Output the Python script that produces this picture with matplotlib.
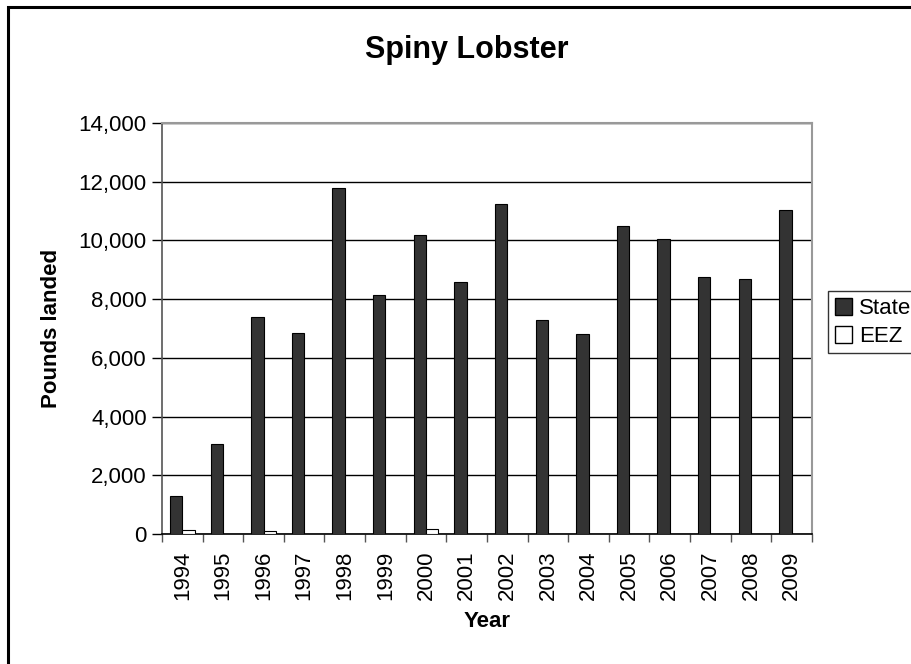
import numpy as np
import matplotlib
matplotlib.use("Agg")
import matplotlib.pyplot as plt
from matplotlib.patches import Rectangle, Patch

plt.rcParams['font.family'] = ['Liberation Sans', 'DejaVu Sans']

years = ['1994', '1995', '1996', '1997', '1998', '1999', '2000', '2001',
         '2002', '2003', '2004', '2005', '2006', '2007', '2008', '2009']
state = [1300, 3050, 7400, 6850, 11800, 8150, 10200, 8600,
         11250, 7300, 6800, 10500, 10050, 8750, 8700, 11050]
eez = [120, 0, 110, 0, 0, 0, 160, 0, 0, 0, 0, 0, 0, 0, 0, 0]
yticks = [0, 2000, 4000, 6000, 8000, 10000, 12000, 14000]

fig = plt.figure(figsize=(9.12, 6.64), dpi=100)
ax = fig.add_axes([162 / 912, 1 - 534 / 664, 650 / 912, 411 / 664])

x = np.arange(len(years))
w = 0.305
ax.bar(x - w / 2, state, width=w, color='#333333', edgecolor='black', linewidth=0.8, zorder=3)
eez_vals = np.array(eez)
mask = eez_vals > 0
ax.bar(x[mask] + w / 2, eez_vals[mask], width=w, color='white', edgecolor='black', linewidth=0.8, zorder=3)

ax.set_xlim(-0.5, len(years) - 0.5)
ax.set_ylim(0, 14000)
ax.set_yticks(yticks)
ax.set_yticklabels([f'{v:,}' for v in yticks], fontsize=16)
ax.yaxis.grid(True, color='black', linewidth=1.0, zorder=0)

# year labels centred on bars, tick marks between categories
ax.set_xticks(x)
ax.set_xticklabels(years, rotation=90, fontsize=16)
ax.tick_params(axis='x', which='major', length=0, pad=12)
ax.set_xticks(np.arange(len(years) + 1) - 0.5, minor=True)
ax.tick_params(axis='x', which='minor', length=6, width=1, color='#555555', direction='out')
ax.tick_params(axis='y', length=7, width=1, color='black', direction='out', pad=4)

for side in ['top', 'right']:
    ax.spines[side].set_color('#999999')
    ax.spines[side].set_linewidth(1.5)
ax.spines['left'].set_color('#555555')
ax.spines['left'].set_linewidth(1.2)
ax.spines['bottom'].set_color('black')
ax.spines['bottom'].set_linewidth(1.2)

ax.set_ylabel('Pounds landed', fontsize=16, fontweight='bold', labelpad=12)
ax.set_xlabel('Year', fontsize=16, fontweight='bold', labelpad=8)
fig.text(467 / 912, 1 - 50 / 664, 'Spiny Lobster', fontsize=22, fontweight='bold',
         ha='center', va='center')

handles = [Patch(facecolor='#333333', edgecolor='black', label='State'),
           Patch(facecolor='white', edgecolor='black', label='EEZ')]
leg = fig.legend(handles=handles, loc='upper left', bbox_to_anchor=(828 / 912, 1 - 291 / 664),
                 fontsize=16, frameon=True, fancybox=False, handlelength=0.8, handleheight=0.8,
                 handletextpad=0.3, borderpad=0.3, labelspacing=0.3, borderaxespad=0)
leg.get_frame().set_edgecolor('black')
leg.get_frame().set_linewidth(1.0)

# outer chart border, running off the right and bottom edges
fig.patches.append(Rectangle((8 / 912, -0.2), 1.2, 1 - 7 / 664 + 0.2, transform=fig.transFigure,
                             fill=False, edgecolor='black', linewidth=2.2, clip_on=False))
fig.text(838 / 912, 1 - 4 / 664, 'Source: KDFWR', fontsize=13, fontfamily='Liberation Serif',
         ha='left', va='bottom')

fig.savefig('out.png', dpi=100)
